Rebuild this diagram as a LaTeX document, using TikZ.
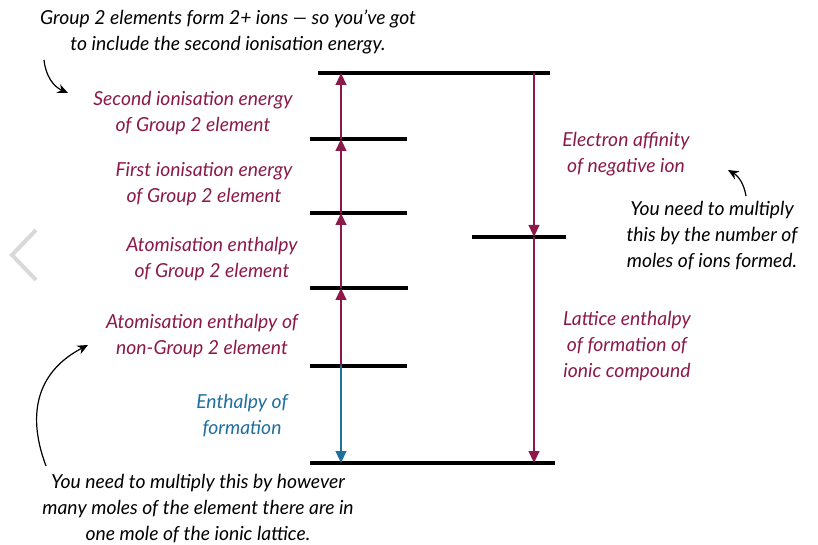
\documentclass[tikz,border=0pt]{standalone}
\usepackage{fontspec}
\setmainfont{Lato}
\usetikzlibrary{arrows.meta}
\definecolor{mar}{HTML}{8B1A4A}
\definecolor{blu}{HTML}{1F6FA0}
\begin{document}
\begin{tikzpicture}[x=0.75pt,y=-0.75pt,
  lvl/.style={line width=3pt},
  up/.style={mar,line width=1.5pt,-{Triangle[length=9pt,width=8pt]}},
  lab/.style={font=\fontsize{14.5}{19.5}\selectfont\itshape,align=center,inner sep=0},
  note/.style={lab,text=black},
  ann/.style={black,line width=0.9pt,-{Stealth[length=8pt,width=7pt]}}]
\useasboundingbox (0,0) rectangle (818,545);
\fill[white] (0,0) rectangle (818,545);
% chevron
\draw[gray!30,line width=3pt] (36,230) -- (12,255) -- (36,280);
% levels
\coordinate (t1) at (318,73); \coordinate (t2) at (550,73);
\draw[lvl] (t1) -- (t2);
\draw[lvl] (310,139) coordinate (l1) -- (407,139);
\draw[lvl] (310,213) coordinate (l2) -- (407,213);
\draw[lvl] (310,288) coordinate (l3) -- (408,288);
\draw[lvl] (310,366) coordinate (l4) -- (407,366);
\draw[lvl] (310,463) -- (555,463);
\draw[lvl] (472,237) -- (566,237);
\coordinate (a0) at (341,463); \coordinate (a1) at (341,366);
\coordinate (a2) at (341,288); \coordinate (a3) at (341,213);
\coordinate (a4) at (341,139); \coordinate (a5) at (341,73);
\draw[up] (a1) -- (a2);
\draw[up] (a2) -- (a3);
\draw[up] (a3) -- (a4);
\draw[up] (a4) -- (a5);
\draw[blu,line width=1.5pt,-{Triangle[length=9pt,width=8pt]}] (a1) -- (a0);
\coordinate (b0) at (534,73); \coordinate (b1) at (534,237); \coordinate (b2) at (534,463);
\draw[up] (b0) -- (b1);
\draw[up] (b1) -- (b2);
% labels
\node[lab,text=mar] (s2) at (193,113) {Second ionisation energy\\of Group 2 element};
\node[lab,text=mar] (s1) at (204,184) {First ionisation energy\\of Group 2 element};
\node[lab,text=mar] (s3) at (212,259) {Atomisation enthalpy\\of Group 2 element};
\node[lab,text=mar] (s4) at (202,336) {Atomisation enthalpy of\\non-Group 2 element};
\node[lab,text=blu] (s5) at (242,416) {Enthalpy of\\formation};
\node[lab,text=mar] (s6) at (626,154) {Electron affinity\\of negative ion};
\node[lab,text=mar] (s7) at (627,346) {Lattice enthalpy\\of formation of\\ionic compound};
% notes
\node[note] (n1) at (228,32) {Group 2 elements form 2+ ions — so you’ve got\\to include the second ionisation energy.};
\node[note] (n2) at (712,236) {You need to multiply\\this by the number of\\moles of ions formed.};
\node[note] (n3) at (198,509) {You need to multiply this by however\\many moles of the element there are in\\one mole of the ionic lattice.};
\coordinate (e1) at (68,93); \coordinate (e2) at (728,170); \coordinate (e3) at (88,345);
\draw[ann] (44,60) to[bend right=30] (e1);
\draw[ann] (746,196) to[bend right=25] (e2);
\draw[ann] (46,466) .. controls (25,410) and (40,370) .. (e3);
\end{tikzpicture}
\end{document}
